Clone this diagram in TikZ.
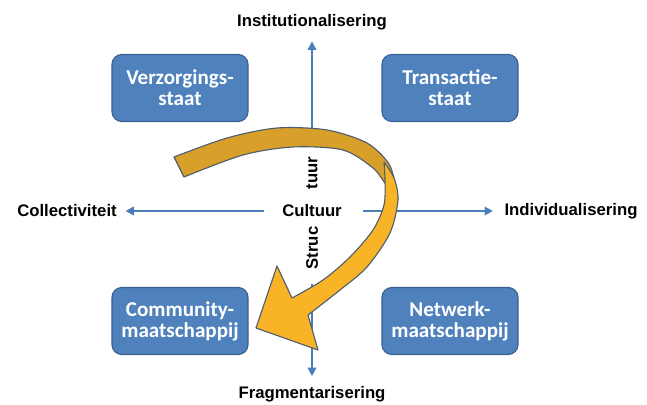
\documentclass[tikz,border=0pt]{standalone}
\usepackage{fontspec}
\setmainfont{Liberation Sans}
\newfontfamily\boxfont{Carlito}
\usepackage{tikz}
\usetikzlibrary{arrows.meta}
\definecolor{boxblue}{RGB}{79,129,189}
\definecolor{boxline}{RGB}{58,96,142}
\definecolor{axisblue}{RGB}{74,126,187}
\definecolor{ribbondark}{RGB}{216,160,42}
\definecolor{ribbonlight}{RGB}{248,180,38}
\definecolor{ribbonline}{RGB}{78,94,110}
\tikzstyle{every node}=[font=\fontsize{11.9}{13}\selectfont\bfseries,inner sep=1pt]
\tikzstyle{quadrant}=[draw=boxline,fill=boxblue,thick,rounded corners=7pt,
    minimum width=3.4cm,minimum height=1.675cm,text=white,align=center,
    font=\boxfont\fontsize{15}{15}\selectfont\bfseries]
\tikzstyle{axis}=[draw=axisblue,line width=1.4pt,-{Triangle[length=6pt,width=6pt]}]
\tikzstyle{structuur}=[rotate=90,fill=white,inner sep=2pt]
\tikzstyle{ribbon}=[draw=ribbonline,line width=0.8pt,line join=round]

\begin{document}
\begin{tikzpicture}[x=0.025cm,y=-0.025cm]
    \useasboundingbox (0,0) rectangle (647,405);
    % quadrants
    \node [quadrant] (verz) at (180,88) {Verzorgings-\\staat};
    \node [quadrant] (trans) at (450,88) {Transactie-\\staat};
    \node [quadrant] (comm) at (180,321) {Community-\\maatschappij};
    \node [quadrant] (netw) at (450,321) {Netwerk-\\maatschappij};
    % axis labels
    \node (cultuur) at (312,211) {Cultuur};
    \node (inst) at (312,22) {Institutionalisering};
    \node (fragm) at (312,394) {Fragmentarisering};
    \node (collect) at (67,211) {Collectiviteit};
    \node (indiv) at (571,211) {Individualisering};
    \node [structuur] (tuur) at (312,173) {tuur};
    \node [structuur] (struc) at (312,248) {Struc};
    % axes
    \draw [axis,shorten <=12pt,shorten >=5pt] (cultuur) -- (collect);
    \draw [axis,shorten <=14pt,shorten >=7pt] (cultuur) -- (indiv);
    \draw [axis,shorten <=6pt,shorten >=7pt] (tuur) -- (inst);
    \draw [axis,shorten <=8pt,shorten >=6pt] (struc) -- (fragm);
    % ribbon arrow
    \filldraw [ribbon,fill=ribbondark] (174,157) -- (184,177)
        -- plot [smooth] coordinates {(184,177) (243,155) (293,147) (343,150) (373,168) (386,184) (396,188)}
        -- plot [smooth] coordinates {(396,188) (389,164) (367,143) (327,130) (277,128) (227,138) (174,157)}
        -- cycle;
    \filldraw [ribbon,fill=ribbonlight] (384,162)
        -- plot [smooth] coordinates {(384,162) (394,178) (398,200) (390,233) (367,267) (340,290) (308,315)}
        -- (318,350) -- (256,328) -- (277,266) -- (292,298)
        -- plot [smooth] coordinates {(292,298) (323,280) (350,257) (373,230) (384,205) (385,180) (384,162)}
        -- cycle;
\end{tikzpicture}
\end{document}
